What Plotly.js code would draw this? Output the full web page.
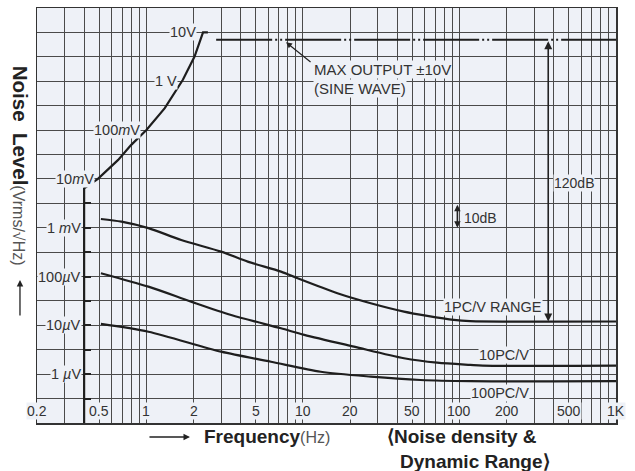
<!DOCTYPE html>
<html><head><meta charset="utf-8">
<script src="https://cdn.plot.ly/plotly-3.0.1.min.js"></script>
<style>html,body{margin:0;padding:0;background:#fff}#chart{width:635px;height:471px}</style>
</head><body><div id="chart"></div>
<script>
// ---- data ----
const maxOutFreq  = [0.4, 0.4, 0.49, 0.66, 0.80, 1.0, 1.31, 1.59, 1.71, 2.03, 2.30, 2.47];
const maxOutLevel = [1e-7, 6.4e-3, 1.0e-2, 2.45e-2, 4.98e-2, 0.1, 0.281, 0.78, 1.07, 3.2, 10, 10];
const sineFreq  = [2.79, 1000];
const sineLevel = [7.07, 7.07];
const pc1Freq  = [0.512, 0.693, 1.03, 1.67, 3.0, 4.44, 7.24, 9.25, 16.6, 27.1, 44.2, 62.3, 92, 117, 1000];
const pc1Level = [1.51e-3, 1.33e-3, 9.8e-4, 5.6e-4, 3.24e-4, 2.02e-4, 1.26e-4, 9.2e-5, 4.55e-5, 2.84e-5, 1.91e-5, 1.56e-5, 1.29e-5, 1.22e-5, 1.2e-5];
const pc10Freq  = [0.512, 1.03, 1.93, 3.48, 7.24, 10.2, 21.2, 44.2, 72, 117, 141, 1000];
const pc10Level = [1.17e-4, 6.2e-5, 3.06e-5, 1.63e-5, 8.7e-6, 6.4e-6, 3.66e-6, 2.12e-6, 1.72e-6, 1.55e-6, 1.5e-6, 1.5e-6];
const pc100Freq  = [0.512, 1.03, 3.0, 6.25, 13.0, 27.1, 56.4, 117, 1000];
const pc100Level = [1.07e-5, 7.4e-6, 2.89e-6, 1.80e-6, 1.12e-6, 8.9e-7, 7.6e-7, 7.2e-7, 7.2e-7];
const xTickVals = [0.2, 0.5, 1, 2, 5, 10, 20, 50, 100, 200, 500, 1000];
const xTickText = ['0.2', '0.5', '1', '2', '5', '10', '20', '50', '100', '200', '500', '1K'];
const yTickVals = [10, 1, 0.1, 0.01, 1e-3, 1e-4, 1e-5, 1e-6];
const yTickText = ['10V', '1 V', '100<i>m</i>V', '10<i>m</i>V', '1 <i>m</i>V', '100<i>µ</i>V', '10<i>µ</i>V', '1 <i>µ</i>V'];
const rangeDb = 7.07;  // dB arrow top (max output rms)
const rangeFloor = 1.2e-5;

// ---- layout helpers ----
const yLabelEnd = [2.11, 1.6, 0.93, 0.467, 0.385, 0.385, 0.385, 0.385];
const BG = '#eef1f7';
const INK = '#1e1e1e';
const TXT = '#333333';
const FONT = 'Liberation Sans, Arial, Helvetica, sans-serif';
const L = Math.log10;

const xGrid = [];
for (let d = -1; d <= 2; d++) for (let k = 1; k <= 9; k++) { const v = k * Math.pow(10, d); if (v >= 0.2 - 1e-9) xGrid.push(v); }
xGrid.push(1000);
const yGrid = [];
for (let e = -7; e <= 1.5001; e += 0.5) yGrid.push(Math.pow(10, e));
const boldTicks = [];
for (let e = -6.5; e <= -2.49; e += 0.5) boldTicks.push(Math.pow(10, e));

const lineStyle = {color: INK, width: 2.2};
const traces = [
  {x: maxOutFreq, y: maxOutLevel, mode: 'lines', line: lineStyle, yaxis: 'y2', hoverinfo: 'skip'},
  {x: sineFreq, y: sineLevel, mode: 'lines', line: {color: INK, width: 2, dash: '56px,3px,2px,3px,2px,3px'}, hoverinfo: 'skip'},
  {x: pc1Freq, y: pc1Level, mode: 'lines', line: Object.assign({shape: 'spline', smoothing: 0.8}, lineStyle), hoverinfo: 'skip'},
  {x: pc10Freq, y: pc10Level, mode: 'lines', line: Object.assign({shape: 'spline', smoothing: 0.8}, lineStyle), hoverinfo: 'skip'},
  {x: pc100Freq, y: pc100Level, mode: 'lines', line: Object.assign({shape: 'spline', smoothing: 0.8}, lineStyle), hoverinfo: 'skip'}
];

const ann = [];
const txt = (o) => ann.push(Object.assign({showarrow: false, bgcolor: BG, borderpad: 0,
  font: {family: FONT, size: 14, color: TXT}}, o));

// x tick labels inside the bottom band
xTickVals.forEach((v, i) => txt({x: L(v), y: -6.75, text: xTickText[i], xanchor: 'center', yanchor: 'middle'}));
// y level labels along the curve
yTickVals.forEach((v, i) => txt({x: L(yLabelEnd[i]), y: L(v), text: yTickText[i], xanchor: 'right', yanchor: 'middle', font: {family: FONT, size: 14.5, color: TXT}}));

txt({x: L(11.6), y: 0.234, text: 'MAX OUTPUT ±10V', xanchor: 'left', yanchor: 'middle', font: {family: FONT, size: 15, color: TXT}});
txt({x: L(11.6), y: -0.156, text: '(SINE WAVE)', xanchor: 'left', yanchor: 'middle', font: {family: FONT, size: 15, color: TXT}});
txt({x: L(397), y: -2.08, text: '120dB', xanchor: 'left', yanchor: 'middle'});
txt({x: L(106), y: -2.80, text: '10dB', xanchor: 'left', yanchor: 'middle'});
txt({x: L(78), y: -4.617, text: '1PC/V RANGE', xanchor: 'left', yanchor: 'middle', font: {family: FONT, size: 14.5, color: TXT}});
txt({x: L(132), y: -5.607, text: '10PC/V', xanchor: 'left', yanchor: 'middle', font: {family: FONT, size: 14.5, color: TXT}});
txt({x: L(117.5), y: -6.385, text: '100PC/V', xanchor: 'left', yanchor: 'middle', font: {family: FONT, size: 14.5, color: TXT}});

// arrows
ann.push({x: L(7.8), y: 0.8, ax: 26, ay: 21, text: '', showarrow: true, arrowhead: 2, arrowsize: 1, arrowwidth: 1.2, arrowcolor: '#222'});
ann.push({x: L(369), y: L(rangeFloor), ax: L(369), ay: L(rangeDb), axref: 'x', ayref: 'y', text: '', showarrow: true,
  arrowside: 'end+start', arrowhead: 2, startarrowhead: 2, arrowsize: 1, startarrowsize: 1, arrowwidth: 1.6, arrowcolor: '#222', standoff: 0, startstandoff: 0});
ann.push({x: L(97), y: -3.0, ax: L(97), ay: -2.5, axref: 'x', ayref: 'y', text: '', showarrow: true,
  arrowside: 'end+start', arrowhead: 2, startarrowhead: 2, arrowsize: 0.8, startarrowsize: 0.8, arrowwidth: 1.6, arrowcolor: '#222', standoff: 0, startstandoff: 0});

// axis titles
ann.push({xref: 'paper', yref: 'paper', x: -0.0294, y: 0.62, textangle: 90, showarrow: false, xanchor: 'center', yanchor: 'middle',
  text: "<b>Noise  Level</b><span style='font-size:16px;color:#555'>(Vrms/√Hz)</span>", font: {family: FONT, size: 20.5, color: '#222'}});
ann.push({xref: 'paper', yref: 'paper', x: -0.0294, y: 0.3446, ax: 0, ay: 37, text: '', showarrow: true, arrowhead: 2, arrowsize: 1, arrowwidth: 1.3, arrowcolor: '#222'});
ann.push({xref: 'paper', yref: 'paper', x: 0.285, y: -0.0337, showarrow: false, xanchor: 'left', yanchor: 'middle',
  text: "<b>Frequency</b><span style='font-size:16px;color:#555'>(Hz)</span>", font: {family: FONT, size: 19, color: '#222'}});
ann.push({xref: 'paper', yref: 'paper', x: 0.2642, y: -0.0337, ax: -42, ay: 0, text: '', showarrow: true, arrowhead: 2, arrowsize: 1, arrowwidth: 1.3, arrowcolor: '#222'});
ann.push({xref: 'paper', yref: 'paper', x: (385 - 37) / 579, y: -0.0337, showarrow: false, xanchor: 'left', yanchor: 'middle',
  text: '<b>⟨Noise density &amp;</b>', font: {family: FONT, size: 19, color: '#222'}});
ann.push({xref: 'paper', yref: 'paper', x: (398 - 37) / 579, y: (423 - 461) / 415, showarrow: false, xanchor: 'left', yanchor: 'middle',
  text: '<b>Dynamic Range⟩</b>', font: {family: FONT, size: 19, color: '#222'}});

const layout = {
  width: 635, height: 471,
  margin: {l: 37, r: 19, t: 8, b: 48},
  paper_bgcolor: '#ffffff', plot_bgcolor: BG,
  showlegend: false,
  font: {family: FONT, color: TXT},
  xaxis: {type: 'log', range: [L(0.2), 3], tickvals: xGrid, showticklabels: false, ticks: '',
    showgrid: true, gridcolor: '#4a4a4a', gridwidth: 1, showline: true, mirror: true, linecolor: '#333', linewidth: 1.5, zeroline: false},
  yaxis: {type: 'log', range: [-7, 1.5], tickvals: yGrid, showticklabels: false, ticks: '',
    showgrid: true, gridcolor: '#4a4a4a', gridwidth: 1, showline: true, mirror: true, linecolor: '#333', linewidth: 1.5, zeroline: false},
  yaxis2: {type: 'log', range: [-7, 1.5], overlaying: 'y', anchor: 'free', position: (L(0.4) - L(0.2)) / (3 - L(0.2)), side: 'right',
    showgrid: false, showline: false, zeroline: false, ticks: 'outside', ticklen: 6, tickwidth: 2, tickcolor: '#222',
    tickvals: boldTicks, showticklabels: false},
  annotations: ann
};

Plotly.newPlot('chart', traces, layout, {staticPlot: true, displayModeBar: false});
</script></body></html>
